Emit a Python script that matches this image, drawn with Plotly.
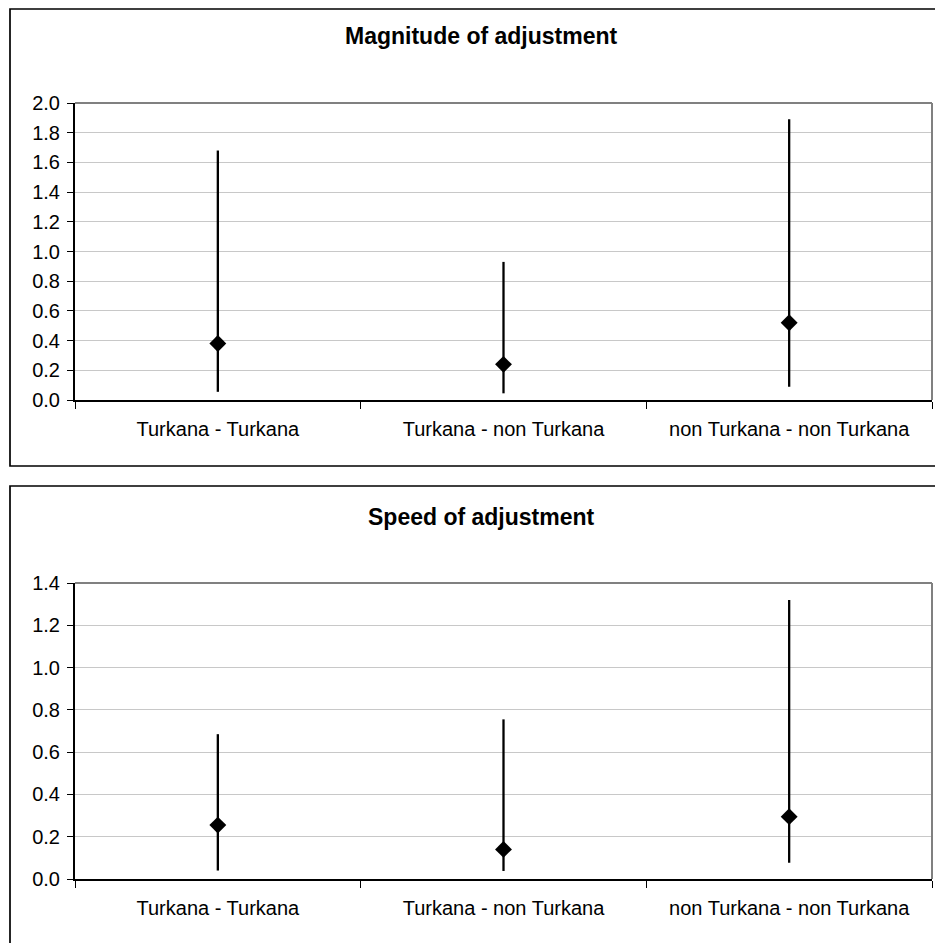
import plotly.graph_objects as go

categories = ["Turkana - Turkana", "Turkana - non Turkana", "non Turkana - non Turkana"]

mag_title = "Magnitude of adjustment"
mag_mid = [0.38, 0.24, 0.52]
mag_low = [0.055, 0.045, 0.09]
mag_high = [1.68, 0.93, 1.89]
mag_ticks = [0.0, 0.2, 0.4, 0.6, 0.8, 1.0, 1.2, 1.4, 1.6, 1.8, 2.0]

spd_title = "Speed of adjustment"
spd_mid = [0.255, 0.14, 0.295]
spd_low = [0.04, 0.038, 0.077]
spd_high = [0.685, 0.755, 1.32]
spd_ticks = [0.0, 0.2, 0.4, 0.6, 0.8, 1.0, 1.2, 1.4]

OFF = 8          # page body margin
W = H = 943 - OFF
FONT = "Liberation Sans, Arial, sans-serif"
xpos = [i + 0.5 for i in range(len(categories))]


def px(x):
    return (x - OFF) / W


def py(y):
    return (H - (y - OFF)) / H


fig = go.Figure()


def add_series(mid, low, high, xa, ya):
    fig.add_trace(go.Scatter(
        x=xpos, y=mid, mode="markers", xaxis=xa, yaxis=ya,
        marker=dict(symbol="diamond", size=13, color="black"),
        error_y=dict(type="data", symmetric=False,
                     array=[h - m for h, m in zip(high, mid)],
                     arrayminus=[m - l for m, l in zip(mid, low)],
                     width=0, thickness=2.3, color="black"),
        showlegend=False, hoverinfo="skip"))


add_series(mag_mid, mag_low, mag_high, "x", "y")
add_series(spd_mid, spd_low, spd_high, "x2", "y2")

xdom = [px(75), px(932)]
ydom1 = [py(400), py(103)]
ydom2 = [py(879), py(583)]


def xaxis_cfg(anchor):
    return dict(domain=xdom, anchor=anchor, range=[0, 3], tickmode="array",
                tickvals=xpos, ticktext=categories, ticks="", showgrid=False,
                zeroline=False, showline=True, linecolor="black", linewidth=2,
                tickfont=dict(family=FONT, size=20, color="black"),
                ticklabelstandoff=10, fixedrange=True, automargin=False,
                minor=dict(ticks="outside", ticklen=7, tickwidth=1, tickcolor="black",
                           tick0=0, dtick=1, showgrid=False))


def yaxis_cfg(anchor, dom, ticks):
    return dict(domain=dom, anchor=anchor, range=[ticks[0], ticks[-1]],
                tickmode="array", tickvals=ticks,
                ticktext=[f"{t:.1f}" for t in ticks],
                ticks="outside", ticklen=6, tickwidth=1, tickcolor="black",
                showgrid=True, gridcolor="#c8c8c8", gridwidth=1,
                zeroline=False, showline=True, linecolor="black", linewidth=2,
                tickfont=dict(family=FONT, size=20, color="black"),
                ticklabelstandoff=3, fixedrange=True, automargin=False)


fig.update_layout(
    template="none",
    width=W, height=H, autosize=False, margin=dict(l=0, r=0, t=0, b=0, pad=0),
    paper_bgcolor="white", plot_bgcolor="white",
    xaxis=xaxis_cfg("y"), yaxis=yaxis_cfg("x", ydom1, mag_ticks),
    xaxis2=xaxis_cfg("y2"), yaxis2=yaxis_cfg("x2", ydom2, spd_ticks),
    showlegend=False,
)

shapes = [
    # outer chart boxes
    dict(type="rect", xref="paper", yref="paper", x0=px(10), x1=1.03,
         y0=py(466), y1=py(9), line=dict(color="black", width=1.7),
         fillcolor="rgba(0,0,0,0)", layer="below"),
    dict(type="rect", xref="paper", yref="paper", x0=px(10), x1=1.03,
         y0=-0.03, y1=py(486), line=dict(color="black", width=1.7),
         fillcolor="rgba(0,0,0,0)", layer="below"),
]
# gray plot-area border on top and right
for xr, yr in (("x domain", "y domain"), ("x2 domain", "y2 domain")):
    shapes.append(dict(type="line", xref=xr, yref=yr, x0=0, x1=1, y0=1, y1=1,
                       line=dict(color="#808080", width=2), layer="above"))
    shapes.append(dict(type="line", xref=xr, yref=yr, x0=1, x1=1, y0=0, y1=1,
                       line=dict(color="#808080", width=2), layer="above"))
fig.update_layout(shapes=shapes)

fig.add_annotation(text=f"<b>{mag_title}</b>", xref="paper", yref="paper",
                   x=px(481), y=py(36), xanchor="center", yanchor="middle",
                   showarrow=False, font=dict(family=FONT, size=23, color="black"))
fig.add_annotation(text=f"<b>{spd_title}</b>", xref="paper", yref="paper",
                   x=px(481), y=py(517), xanchor="center", yanchor="middle",
                   showarrow=False, font=dict(family=FONT, size=23, color="black"))

fig.write_html("out.html")
